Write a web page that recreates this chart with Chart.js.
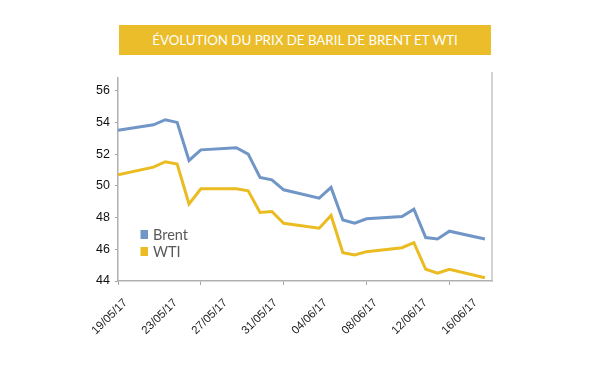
<!DOCTYPE html>
<html>
<head>
<meta charset="utf-8">
<script src="https://cdn.jsdelivr.net/npm/chart.js@4"></script>
<style>
  html, body { margin: 0; padding: 0; background: #fff; }
  #wrap { position: relative; width: 600px; height: 375px; }
  #title {
    position: absolute; left: 119px; top: 25px; width: 372px; height: 30px;
    background: #ebbd2a; color: #fff; text-align: center;
    font: 13.3px 'Lato', 'Open Sans', sans-serif; line-height: 30px;
  }
  canvas { position: absolute; left: 0; top: 0; }
</style>
</head>
<body>
<div id="wrap">
  <canvas id="c" width="600" height="375"></canvas>
  <div id="title">ÉVOLUTION DU PRIX DE BARIL DE BRENT ET WTI</div>
</div>
<script>
// ---- data ----
const dates = ['19/05/17','22/05/17','23/05/17','24/05/17','25/05/17','26/05/17','29/05/17','30/05/17','31/05/17','01/06/17','02/06/17',
               '05/06/17','06/06/17','07/06/17','08/06/17','09/06/17','12/06/17','13/06/17','14/06/17','15/06/17','16/06/17','19/06/17'];
const brent = [53.5, 53.85, 54.17, 54.0, 51.6, 52.27, 52.4, 52.0, 50.53, 50.38, 49.75,
               49.22, 49.9, 47.85, 47.64, 47.92, 48.06, 48.53, 46.74, 46.65, 47.14, 46.65];
const wti   = [50.7, 51.18, 51.52, 51.37, 48.86, 49.81, 49.81, 49.69, 48.32, 48.38, 47.64,
               47.33, 48.13, 45.79, 45.64, 45.85, 46.1, 46.42, 44.74, 44.49, 44.74, 44.2];
const seriesNames = ['Brent', 'WTI'];
const xTickLabels = ['19/05/17','23/05/17','27/05/17','31/05/17','04/06/17','08/06/17','12/06/17','16/06/17'];
const yTicks = [44, 46, 48, 50, 52, 54, 56];

// day offset from first date
function toDay(s) {
  const [d, m, y] = s.split('/').map(Number);
  return Math.round(Date.UTC(2000 + y, m - 1, d) / 86400000);
}
const day0 = toDay(dates[0]);
const dayOf = s => toDay(s) - day0;

const BLUE = '#7095c7';
const YELLOW = '#ebbb22';
const NARROW = "'Liberation Sans Narrow', 'Arial Narrow', 'Liberation Sans', sans-serif";

const legendPlugin = {
  id: 'insideLegend',
  afterDatasetsDraw(chart) {
    const ctx = chart.ctx, a = chart.chartArea;
    ctx.save();
    ctx.font = "14.5px 'Lato', 'Open Sans', sans-serif";
    ctx.textBaseline = 'middle';
    chart.data.datasets.forEach((ds, i) => {
      const y = a.bottom - 46.5 + i * 17;
      ctx.fillStyle = ds.borderColor;
      ctx.fillRect(a.left + 22.5, y - 4.5, 7.5, 9);
      ctx.fillStyle = '#595959';
      ctx.fillText(ds.label, a.left + 35, y + 0.5);
    });
    ctx.restore();
  }
};
const frame = {
  id: 'frame',
  afterDraw(chart) {
    const ctx = chart.ctx, a = chart.chartArea;
    ctx.save();
    ctx.strokeStyle = '#c4c4c4';
    ctx.lineWidth = 1.5;
    ctx.beginPath();
    ctx.moveTo(a.right, a.top - 6);
    ctx.lineTo(a.right, a.bottom + 1);
    ctx.stroke();
    ctx.restore();
  }
};

new Chart(document.getElementById('c'), {
  type: 'line',
  data: {
    datasets: [
      { label: seriesNames[0], data: dates.map((d, i) => ({ x: dayOf(d), y: brent[i] })),
        borderColor: BLUE, backgroundColor: BLUE, borderWidth: 3, pointRadius: 0, tension: 0 },
      { label: seriesNames[1], data: dates.map((d, i) => ({ x: dayOf(d), y: wti[i] })),
        borderColor: YELLOW, backgroundColor: YELLOW, borderWidth: 3, pointRadius: 0, tension: 0 }
    ]
  },
  options: {
    responsive: false,
    animation: false,
    events: [],
    layout: { padding: { left: 0, top: 78, right: 108, bottom: 0 } },
    plugins: { legend: { display: false }, tooltip: { enabled: false } },
    scales: {
      x: {
        type: 'linear', position: 'bottom', min: 0, max: 31.6,
        afterBuildTicks: s => { s.ticks = [0, 7, 14, 21, 28].map(v => ({ value: v })); },
        afterFit: s => { s.height = 4; },
        ticks: { display: false },
        grid: { drawOnChartArea: false, drawTicks: true, tickLength: 4, color: '#a6a6a6' },
        border: { color: '#b0b0b0', width: 1.5 }
      },
      xl: {
        type: 'linear', position: 'bottom', min: -0.6, max: 29.32,
        afterBuildTicks: s => { s.ticks = xTickLabels.map(l => ({ value: dayOf(l) })); },
        afterFit: s => { s.height = 90; },
        ticks: {
          autoSkip: false, maxRotation: 45, minRotation: 45, padding: 3,
          color: '#1a1a1a', font: { family: NARROW, size: 11.5 },
          callback: v => xTickLabels.find(l => dayOf(l) === v) || ''
        },
        grid: { display: false },
        border: { display: false }
      },
      y: {
        min: 44, max: 56.8,
        afterBuildTicks: s => { s.ticks = yTicks.map(v => ({ value: v })); },
        afterFit: s => { s.width = 118; },
        ticks: { color: '#111', padding: 5, font: { family: NARROW, size: 12.5 } },
        grid: { drawOnChartArea: false, drawTicks: true, tickLength: 3, color: '#a6a6a6' },
        border: { color: '#b0b0b0', width: 1.5 }
      }
    }
  },
  plugins: [legendPlugin, frame]
});
</script>
</body>
</html>
